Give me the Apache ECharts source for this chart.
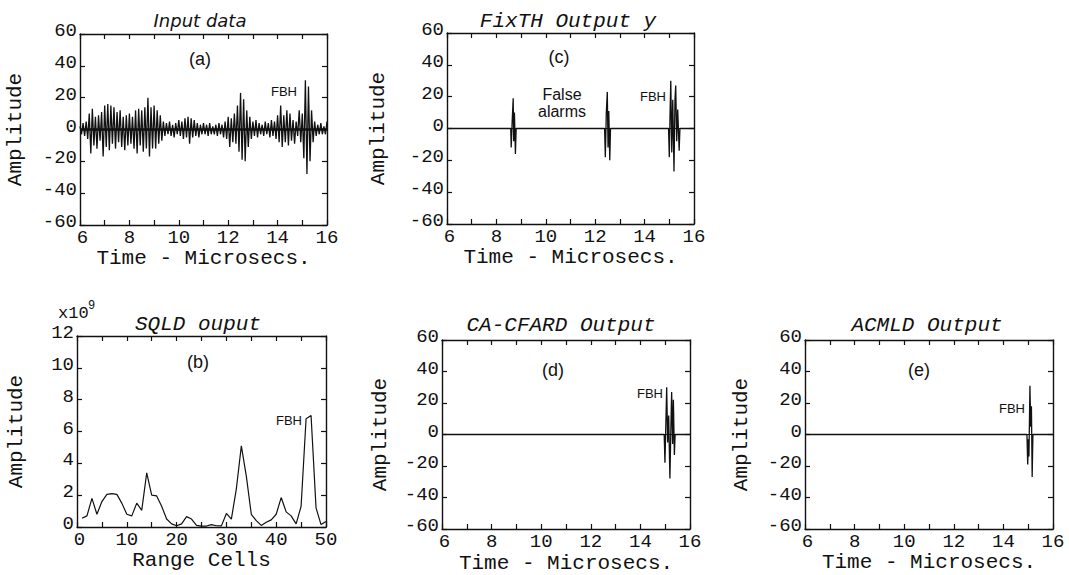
<!DOCTYPE html>
<html><head><meta charset="utf-8">
<script src="https://cdn.jsdelivr.net/npm/echarts@6/dist/echarts.min.js"></script>
<style>html,body{margin:0;padding:0;background:#fff}#c{width:1069px;height:575px}</style>
</head><body><div id="c"></div>
<script>
// ---------- data ----------
const inputStart = 6, inputStep = 0.0625;
const inputValues = [
  2,-3,4,-4,5,-6,10,-15,13,-10,8,-12,9,-7,11,-17,
  15,-11,16,-13,15,-9,14,-12,11,-8,12,-11,8,-13,9,-10,
  10,-9,8,-12,12,-15,13,-10,12,-14,14,-12,20,-17,14,-12,
  15,-12,12,-9,9,-7,5,-4,4,-3,5,-4,3,-5,4,-3,
  6,-4,5,-6,7,-5,8,-9,7,-5,6,-4,4,-5,3,-3,
  4,-3,3,-4,4,-3,2,-3,3,-4,4,-3,3,-5,5,-6,
  8,-11,7,-8,10,-9,15,-14,23,-19,19,-20,12,-11,8,-6,
  5,-4,6,-5,4,-3,3,-4,5,-3,4,-5,6,-4,5,-6,
  9,-8,15,-11,9,-8,12,-10,10,-7,6,-9,5,-4,12,-8,
  10,-18,31,-28,27,-20,12,-8,5,-4,3,-3,4,-3,2,-3,5
];
const sqldCells = [1,2,3,4,5,6,7,8,9,10,11,12,13,14,15,16,17,18,19,20,21,22,23,24,25,
  26,27,28,29,30,31,32,33,34,35,36,37,38,39,40,41,42,43,44,45,46,47,48,49,50];
const sqldValues = [0.55,0.7,1.8,0.8,1.6,2.05,2.1,2.05,1.5,0.8,0.7,1.5,1.05,3.4,2.0,1.95,1.3,0.5,0.2,0.08,
  0.2,0.65,0.5,0.1,0.05,0.06,0.15,0.08,0.07,0.85,0.5,2.4,5.1,3.2,0.8,0.4,0.1,0.3,0.45,0.8,
  1.85,0.95,0.7,0.2,1.3,6.8,7.0,1.2,0.15,0.35];
const fixthTimes = [6,8.58,8.60,8.64,8.68,8.70,8.73,8.77,8.80,
  12.38,12.41,12.45,12.49,12.52,12.55,12.59,12.62,
  14.97,15.0,15.03,15.06,15.1,15.14,15.19,15.23,15.26,15.3,15.34,15.4,15.43,16];
const fixthValues = [0,0,-12,5,19,-8,10,-16,0,
  0,-18,10,23,-12,11,-20,0,
  0,-18,9,30,-15,18,-27,18,27,-8,12,-14,0,0];
const cfarTimes = [6,14.96,14.99,15.02,15.06,15.1,15.14,15.19,15.23,15.26,15.3,15.33,15.37,15.4,16];
const cfarValues = [0,0,-18,2,30,-5,12,-28,5,27,-6,22,-13,0,0];
const acmlTimes = [6,14.95,14.98,15.01,15.03,15.07,15.1,15.13,15.16,15.19,16];
const acmlValues = [0,0,-19,-3,-14,31,5,18,-27,0,0];

const timeLabels = [6,8,10,12,14,16];
const ampLabels = [-60,-40,-20,0,20,40,60];
const cellLabels = [0,10,20,30,40,50];
const sqldLabels = [0,2,4,6,8,10,12];

// ---------- layout ----------
const MONO = 'Liberation Mono';
const SANS = 'Liberation Sans';
const grids = [
  {left:80, top:34, width:247, height:191},   // a
  {left:77, top:336, width:249, height:191},  // b
  {left:447, top:33, width:247, height:191},  // c
  {left:442, top:340, width:248, height:189}, // d
  {left:805, top:340, width:248, height:189}  // e
];
const axisCfg = [
  {x:[6,16,1,timeLabels,'Time - Microsecs.',21.5], y:[-60,60,20,ampLabels,'Amplitude',54]},
  {x:[0,50,5,cellLabels,'Range Cells',22.5], y:[0,12,2,sqldLabels,'Amplitude',50.5]},
  {x:[6,16,1,timeLabels,'Time - Microsecs.',22.5], y:[-60,60,20,ampLabels,'Amplitude',58]},
  {x:[6,16,1,timeLabels,'Time - Microsecs.',23.5], y:[-60,60,20,ampLabels,'Amplitude',51.5]},
  {x:[6,16,1,timeLabels,'Time - Microsecs.',20.5], y:[-60,60,20,ampLabels,'Amplitude',53.5]}
];
const lineBlack = {color:'#111', width:1.4};
const tickStyle = {show:true, inside:true, length:5, lineStyle:{color:'#111', width:1.2}};
const xAxes = [], yAxes = [];
axisCfg.forEach((c, i) => {
  const [xmin,xmax,xint,xlab,xname,xgap] = c.x;
  const [ymin,ymax,yint,ylab,yname,ygap] = c.y;
  const common = (min,max,intv) => ({gridIndex:i, type:'value', min, max, interval:intv,
    axisLine:{show:true, onZero:false, lineStyle:lineBlack}, axisTick:tickStyle, splitLine:{show:false}});
  xAxes.push(Object.assign(common(xmin,xmax,xint), {position:'bottom',
    axisLabel:{margin:7, color:'#111', fontFamily:MONO, fontSize:19, lineHeight:12,
      rich:{lo:{fontFamily:MONO, fontSize:19, lineHeight:12, color:'#111', padding:[0,0,0,5]}},
      formatter:v => !xlab.includes(v) ? '' : (v === xmin ? '{lo|' + v + '}' : String(v))},
    name:xname, nameLocation:'middle', nameGap:xgap,
    nameTextStyle:{fontFamily:MONO, fontSize:21, color:'#111'}}));
  xAxes.push(Object.assign(common(xmin,xmax,xint), {position:'top', axisLabel:{show:false}}));
  yAxes.push(Object.assign(common(ymin,ymax,yint), {position:'left',
    axisLabel:{margin:3, color:'#111', fontFamily:MONO, fontSize:19, lineHeight:6, verticalAlign:'bottom',
      formatter:v => ylab.includes(v) ? String(v) : ''},
    name:yname, nameLocation:'middle', nameGap:ygap,
    nameTextStyle:{fontFamily:MONO, fontSize:21, color:'#111'}}));
  yAxes.push(Object.assign(common(ymin,ymax,yint), {position:'right', axisLabel:{show:false}}));
});

const zeroLine = w => ({silent:true, symbol:'none', label:{show:false},
  lineStyle:{type:'solid', color:'#111', width:w}, data:[{yAxis:0}]});
const mk = (gi, data, w, zeroW) => ({type:'line', xAxisIndex:gi*2, yAxisIndex:gi*2,
  data, showSymbol:false, symbol:'none', animation:false, sampling:null,
  lineStyle:{color:'#111', width:w}, markLine: zeroW ? zeroLine(zeroW) : undefined});

const series = [
  mk(0, inputValues.map((v,k) => [inputStart + k*inputStep, v]), 1.3, 2.5),
  mk(1, sqldCells.map((c,k) => [c, sqldValues[k]]), 1.2, 0),
  mk(2, fixthTimes.map((t,k) => [t, fixthValues[k]]), 1.3, 1),
  mk(3, cfarTimes.map((t,k) => [t, cfarValues[k]]), 1.3, 1),
  mk(4, acmlTimes.map((t,k) => [t, acmlValues[k]]), 1.3, 1)
];

const txt = (x, y, text, font, extra) => ({type:'text', x, y, silent:true,
  style:Object.assign({text, font, fill:'#111', textAlign:'center', textVerticalAlign:'middle'}, extra||{})});
const graphic = [
  txt(200, 20, 'Input data', 'italic 18px "DejaVu Sans"'),
  txt(568, 21, 'FixTH Output y', 'italic 21px ' + MONO),
  txt(198, 324, 'SQLD ouput', 'italic 21px ' + MONO),
  txt(561, 325, 'CA-CFARD Output', 'italic 21px ' + MONO),
  txt(927, 325, 'ACMLD Output', 'italic 21px ' + MONO),
  txt(58, 313, 'x10', '17px ' + MONO, {textAlign:'left'}),
  txt(88, 306, '9', '12px ' + MONO, {textAlign:'left'}),
  txt(200, 59, '(a)', '18px ' + SANS),
  txt(559, 57, '(c)', '18px ' + SANS),
  txt(198, 362, '(b)', '18px ' + SANS),
  txt(553, 370, '(d)', '18px ' + SANS),
  txt(919, 370, '(e)', '18px ' + SANS),
  txt(284, 91, 'FBH', '13px ' + SANS),
  txt(653, 96, 'FBH', '13px ' + SANS),
  txt(289, 420, 'FBH', '13px ' + SANS),
  txt(650, 393, 'FBH', '13px ' + SANS),
  txt(1012, 408, 'FBH', '13px ' + SANS),
  txt(562, 94, 'False', '16px ' + SANS),
  txt(562, 111, 'alarms', '16px ' + SANS)
];

const chart = echarts.init(document.getElementById('c'), null, {renderer:'svg'});
chart.setOption({
  backgroundColor:'#fff', animation:false,
  grid: grids.map(g => Object.assign({show:false, containLabel:false}, g)),
  xAxis: xAxes, yAxis: yAxes, series, graphic
});
</script></body></html>
